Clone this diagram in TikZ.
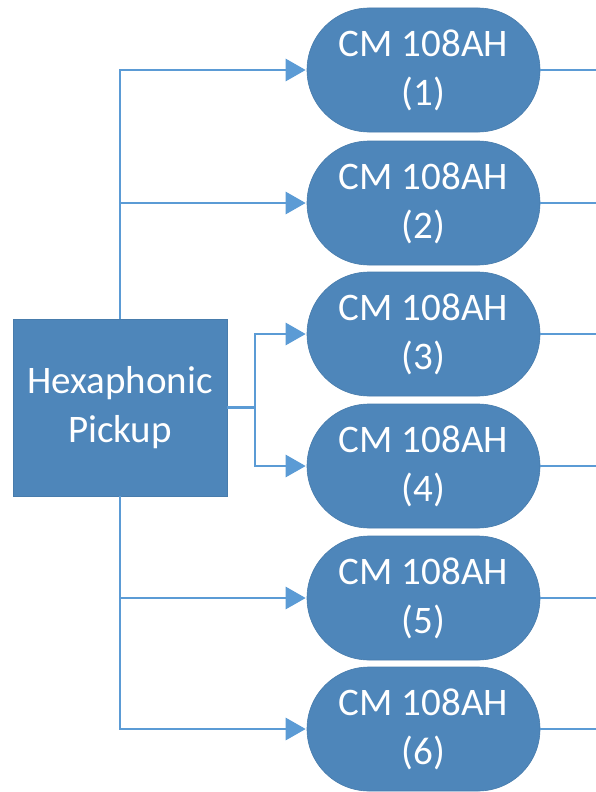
\documentclass[tikz,border=0pt]{standalone}
\usepackage{fontspec}
\setmainfont{Carlito}
\usetikzlibrary{arrows.meta,shapes.misc}
\definecolor{boxfill}{RGB}{78,134,186}
\definecolor{boxedge}{RGB}{72,124,172}
\definecolor{wire}{RGB}{91,155,213}
\tikzset{
  block/.style={rectangle, fill=boxfill, draw=boxedge, line width=0.6pt,
    minimum width=214pt, minimum height=177pt, inner sep=0pt,
    align=center, text=white, font=\fontsize{39}{49}\selectfont},
  chip/.style={rounded rectangle, fill=boxfill, draw=boxedge, line width=0.6pt,
    minimum width=233pt, minimum height=124pt, inner sep=0pt,
    align=center, text=white, font=\fontsize{39}{49}\selectfont},
  wireline/.style={draw=wire, line width=2.8pt},
  feed/.style={wireline, -{Triangle[length=20pt,width=22pt]}, shorten >=1pt},
}
\begin{document}
\begin{tikzpicture}[x=1pt,y=-1pt]
  \useasboundingbox (0,0) rectangle (595,792);

  % source block
  \node[block] (pick) at (120,407.5) {Hexaphonic\\Pickup};

  % six converters
  \node[chip] (cm1) at (423.5,70)  {CM 108AH\\(1)};
  \node[chip] (cm2) at (423.5,203) {CM 108AH\\(2)};
  \node[chip] (cm3) at (423.5,334) {CM 108AH\\(3)};
  \node[chip] (cm4) at (423.5,466) {CM 108AH\\(4)};
  \node[chip] (cm5) at (423.5,598) {CM 108AH\\(5)};
  \node[chip] (cm6) at (423.5,729) {CM 108AH\\(6)};

  % split point for the middle pair
  \coordinate (split) at (255,407.5);

  % outputs leaving to the right edge
  \foreach \i/\y in {1/70,2/203,3/334,4/466,5/598,6/729}{
    \coordinate (out\i) at (596,\y);
    \draw[wireline] (cm\i.east) -- (out\i);
  }

  % feeds from the pickup
  \draw[feed] (pick.north) |- (cm1.west);
  \draw[feed] (pick.north) |- (cm2.west);
  \draw[wireline] (pick.east) -- (split);
  \draw[feed] (split) |- (cm3.west);
  \draw[feed] (split) |- (cm4.west);
  \draw[feed] (pick.south) |- (cm5.west);
  \draw[feed] (pick.south) |- (cm6.west);
\end{tikzpicture}
\end{document}
